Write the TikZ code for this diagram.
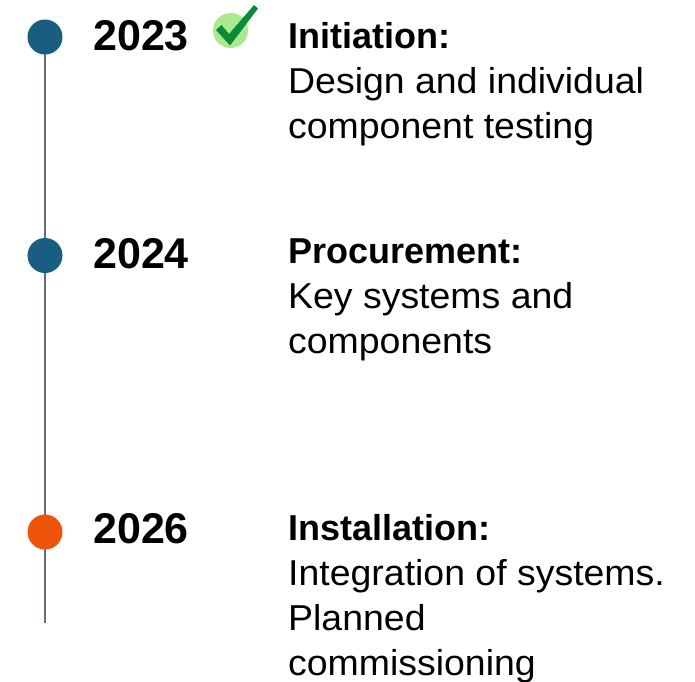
\documentclass[tikz,border=0pt]{standalone}
\usepackage{fontspec}
\setmainfont{Liberation Sans}
\newfontfamily\phasefont[FakeStretch=1.04]{Liberation Sans}
\newcommand{\phasehead}[1]{{\rmfamily\bfseries #1}}
\usepackage{tikz}
\usetikzlibrary{positioning,backgrounds}
\definecolor{DotBlue}{RGB}{23,94,128}
\definecolor{DotOrange}{RGB}{238,85,10}
\definecolor{LineGray}{RGB}{96,108,130}
\definecolor{CheckGreen}{RGB}{12,138,60}
\definecolor{CheckHalo}{RGB}{170,234,140}
\tikzset{
  dot/.style={circle,inner sep=0pt,minimum size=35pt},
  year/.style={anchor=base west,inner sep=0pt,font=\fontsize{43}{50}\selectfont\bfseries},
  phase/.style={anchor=base west,inner sep=0pt,align=left,font=\phasefont\fontsize{36}{45}\selectfont}
}

\begin{document}
\begin{tikzpicture}[x=1pt,y=-1pt]
\useasboundingbox (0,0) rectangle (695,681);
\node[dot,fill=DotBlue] (d1) at (45,37) {};
\node[dot,fill=DotBlue] (d2) at (45,255.5) {};
\node[dot,fill=DotOrange] (d3) at (45,532) {};
\coordinate (tend) at (45,623);

\node[year] (y1) at (93,50) {2023};
\node[year] (y2) at (93,268) {2024};
\node[year] (y3) at (93,543) {2026};

% base anchor sits on the last line
\node[phase] (p1) at (288,138) {\phasehead{Initiation:}\\Design and individual\\component testing};
\node[phase] (p2) at (288,353) {\phasehead{Procurement:}\\Key systems and\\components};
\node[phase] (p3) at (288,675) {\phasehead{Installation:}\\Integration of systems.\\Planned\\commissioning};

% check mark after 2023
\node[circle,fill=CheckHalo,inner sep=0pt,minimum size=35pt] (ok) at (230.5,30.5) {};
\fill[CheckGreen] (216,30) -- (221.5,25) -- (229,34) -- (254,5) -- (258,8.5) -- (230,45.5) -- cycle;

\begin{scope}[on background layer]
\draw[LineGray,line width=1.5pt] (d1.center) -- (tend);
\end{scope}
\end{tikzpicture}
\end{document}
